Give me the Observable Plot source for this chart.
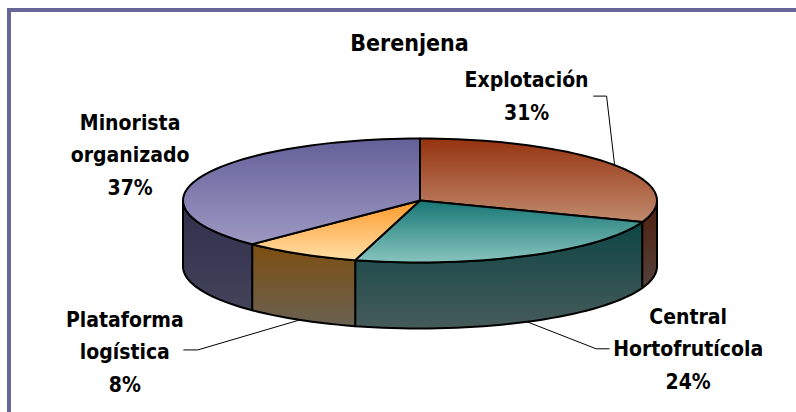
<!DOCTYPE html>
<html lang="es">
<head>
<meta charset="utf-8">
<script src="https://cdn.jsdelivr.net/npm/d3@7"></script>
<script src="https://cdn.jsdelivr.net/npm/@observablehq/plot@0.6"></script>
<style>
  html, body { margin: 0; padding: 0; background: #fff; }
  #chart { position: relative; width: 796px; height: 412px; overflow: hidden; }
  #band { position: absolute; left: 7px; top: 8px; right: 0; bottom: 0;
          border-left: 4px solid #666699; border-top: 4px solid #666699; }
  #chart svg { position: absolute; left: 0; top: 0; background: transparent; }
</style>
</head>
<body>
<div id="chart"><div id="band"></div></div>
<script>
// Data
const title = "Berenjena";
const categories = ["Explotación", "Central Hortofrutícola", "Plataforma logística", "Minorista organizado"];
const shares = [30.6, 23.7, 8.1, 37.4];
const shownPercent = ["31%", "24%", "8%", "37%"];
const labelLines = ["Explotación", "Central\nHortofrutícola", "Plataforma\nlogística", "Minorista\norganizado"];

// Styles and layout (pixels)
const topGradients = [["#95330f", "#c18a6e"], ["#177775", "#88c4be"], ["#ff9a2a", "#ffdfa6"], ["#636099", "#9d99c2"]];
const sideGradients = [["#4f1f0e", "#54413a"], ["#0e4545", "#465b5a"], ["#7d4e10", "#6a6152"], ["#312f4d", "#43435a"]];
const W = 796, H = 412;
const cx = 419.5, cy = 200, rx = 237, ry = 62, depth = 66;
const labelOffsets = [[-88, -72], [161, 24], [-175, 29], [-71, -25]]; // label centre from the rim point
const leaderElbows = [[[-8, -69], [-21, -69]], [[69, 27], [82, 27]], [[-102, 30], [-116, 30]], null];
const fontFamily = "'DejaVu Sans Condensed', 'DejaVu Sans', sans-serif";

// Unit scales: x in [-1,1] across the ellipse, y in [-1,1] up the ellipse
const ux = px => px / rx, uy = px => -px / ry;

const cumulative = d3.cumsum(shares);
const total = d3.sum(shares);
const angle = s => (s / total) * 2 * Math.PI;
const slices = shares.map((v, i) => ({
  name: categories[i],
  a0: angle(cumulative[i] - v),
  a1: angle(cumulative[i])
}));
const rim = a => ({x: Math.sin(a), y: Math.cos(a)});
const arc = (a0, a1) => {
  const n = Math.max(2, Math.ceil((a1 - a0) / 0.04));
  return d3.range(n + 1).map(k => rim(a0 + (a1 - a0) * k / n));
};
const lowered = p => ({x: p.x, y: p.y + uy(depth)});

const topFaces = slices.map(s => [{x: 0, y: 0}, ...arc(s.a0, s.a1)]);
const sideFaces = slices.map(s => {
  const a0 = Math.max(s.a0, Math.PI / 2), a1 = Math.min(s.a1, 3 * Math.PI / 2);
  if (a1 <= a0) return null;
  const edge = arc(a0, a1);
  return [...edge, ...edge.slice().reverse().map(lowered)];
});

// Anchor for label and leader: the mid-angle, on the lower rim for the front half
const anchors = slices.map(s => {
  const p = rim((s.a0 + s.a1) / 2);
  return p.y < 0 ? lowered(p) : p;
});
const leaders = anchors.map((p, i) => leaderElbows[i] && [
  p,
  ...leaderElbows[i].map(([dx, dy]) => ({x: p.x + ux(dx), y: p.y + uy(dy)}))
]).filter(Boolean);

const labels = anchors.map((p, i) => ({
  x: p.x + ux(labelOffsets[i][0]),
  y: p.y + uy(labelOffsets[i][1]),
  text: labelLines[i] + "\n" + shownPercent[i]
}));

const gradientDefs = () => {
  const svgNS = "http://www.w3.org/2000/svg";
  const defs = document.createElementNS(svgNS, "defs");
  const add = (id, [c0, c1]) => {
    const g = document.createElementNS(svgNS, "linearGradient");
    g.setAttribute("id", id);
    g.setAttribute("x1", 0); g.setAttribute("x2", 0); g.setAttribute("y1", 0); g.setAttribute("y2", 1);
    [[0, c0], [1, c1]].forEach(([o, c]) => {
      const st = document.createElementNS(svgNS, "stop");
      st.setAttribute("offset", o); st.setAttribute("stop-color", c);
      g.appendChild(st);
    });
    defs.appendChild(g);
  };
  topGradients.forEach((c, i) => add("top" + i, c));
  sideGradients.forEach((c, i) => add("side" + i, c));
  return defs;
};

const face = (pts, fillId) => Plot.line(pts, {
  x: "x", y: "y", curve: "linear-closed",
  fill: `url(#${fillId})`, stroke: "#000", strokeWidth: 2, strokeLinejoin: "round"
});

const chart = Plot.plot({
  width: W, height: H,
  margin: 0, marginTop: 0, marginRight: 0, marginBottom: 0, marginLeft: 0,
  style: {background: "transparent"},
  x: {domain: [(0 - cx) / rx, (W - cx) / rx], range: [0, W], axis: null},
  y: {domain: [(cy - H) / ry, cy / ry], range: [H, 0], axis: null},
  marks: [
    gradientDefs,
    ...sideFaces.map((f, i) => f && face(f, "side" + i)),
    ...topFaces.map((f, i) => face(f, "top" + i)),
    ...leaders.map(l => Plot.line(l, {x: "x", y: "y", stroke: "#000", strokeWidth: 1, curve: "linear"})),
    Plot.text(labels, {
      x: "x", y: "y", text: "text", fill: "#000",
      fontFamily, fontSize: 21, fontWeight: 700, lineHeight: 1.55, textAnchor: "middle"
    }),
    Plot.text([title], {
      frameAnchor: "top", dx: 11, dy: 43, text: d => d, fill: "#000",
      fontFamily, fontSize: 23, fontWeight: 700, lineAnchor: "middle"
    })
  ]
});
document.getElementById("chart").appendChild(chart);
</script>
</body>
</html>
